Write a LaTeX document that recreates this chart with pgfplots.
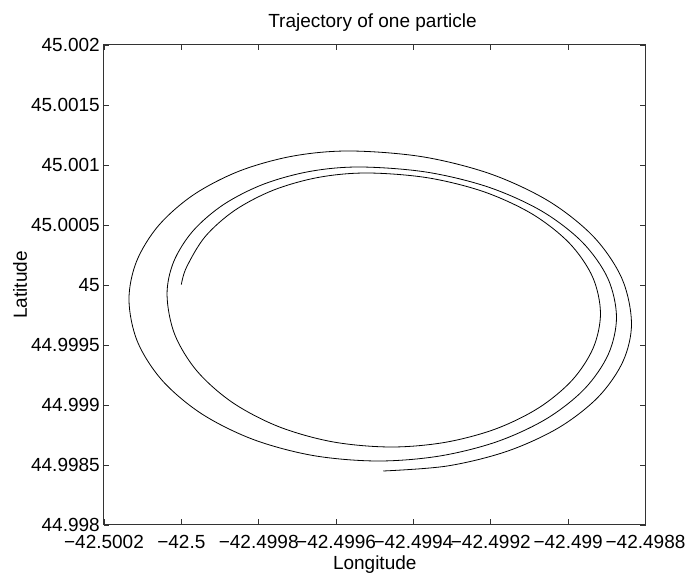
\documentclass[border=0pt]{standalone}
\usepackage{fontspec}
\setmainfont{Liberation Sans}
\usepackage{pgfplots}
\pgfplotsset{compat=1.18}
\begin{document}
% Coordinates are offsets in units of 1e-4 degrees:
% X = (Longitude + 42.5)*1e4, Y = (Latitude - 45)*1e4
\begin{tikzpicture}
\begin{axis}[
  scale only axis,
  width=541.5pt, height=480pt,
  xmin=-2, xmax=12, ymin=-20, ymax=20,
  xtick={-2,0,2,4,6,8,10,12},
  xticklabels={−42.5002,−42.5,−42.4998,−42.4996,−42.4994,−42.4992,−42.499,−42.4988},
  ytick={-20,-15,-10,-5,0,5,10,15,20},
  yticklabels={44.998,44.9985,44.999,44.9995,45,45.0005,45.001,45.0015,45.002},
  font=\fontsize{19}{22}\selectfont,
  tick label style={font=\fontsize{19}{22}\selectfont},
  xticklabel style={inner sep=0pt, anchor=north, yshift=-10pt},
  yticklabel style={inner sep=0pt, anchor=east, xshift=-4pt},
  major tick length=5.5pt,
  tick align=inside,
  tick style={black!80, line width=0.8pt},
  axis line style={black!80, line width=1pt},
  title={Trajectory of one particle},
  title style={at={(axis description cs:0.4958,1.0229)}, anchor=base, inner sep=0pt, font=\fontsize{19}{22}\selectfont},
  xlabel={Longitude},
  xlabel style={at={(axis description cs:0.5,-0.09375)}, anchor=base, inner sep=0pt, font=\fontsize{19}{22}\selectfont},
  ylabel={Latitude},
  ylabel style={at={(axis description cs:-0.1422,0.5)}, anchor=base, inner sep=0pt, rotate=0, font=\fontsize{19}{22}\selectfont},
  clip=false,
]
\addplot[black, line width=0.8pt, smooth, tension=0.55] coordinates {
(0.00,0.04) (0.135,1.489) (0.618,4.042) (1.386,6.233) (2.388,7.915) (3.554,8.972)
(4.806,9.333) (6.367,8.935) (7.821,7.770) (9.070,5.916) (10.028,3.500) (10.630,0.686)
(10.836,-2.333) (10.651,-5.223) (10.108,-7.917) (9.244,-10.229) (8.119,-12.004) (6.808,-13.119)
(5.401,-13.5) (3.907,-13.068) (2.515,-11.803) (1.320,-9.790) (0.403,-7.167) (-0.173,-4.111)
(-0.370,-0.833) (-0.200,1.927) (0.299,4.500) (1.093,6.709) (2.127,8.404) (3.332,9.470)
(4.625,9.833) (6.340,9.407) (7.938,8.158) (9.310,6.172) (10.362,3.583) (11.024,0.568)
(11.250,-2.667) (11.039,-5.773) (10.421,-8.667) (9.438,-11.152) (8.158,-13.059) (6.666,-14.258)
(5.065,-14.667) (3.404,-14.210) (1.855,-12.869) (0.526,-10.737) (-0.494,-7.959) (-1.135,-4.722)
(-1.354,-1.25) (-1.159,1.964) (-0.588,4.959) (0.321,7.530) (1.506,9.503) (2.886,10.744)
(4.366,11.167) (6.248,10.678) (8.002,9.246) (9.508,6.969) (10.664,4.000) (11.390,0.543)
(11.638,-3.167) (11.419,-6.359) (10.778,-9.334) (9.758,-11.888) (8.429,-13.848) (6.881,-15.080)
(5.220,-15.5)
};
\coordinate (SW) at (rel axis cs:0,0);
\end{axis}
\pgfresetboundingbox
\path ([shift={(-104pt,-50pt)}]SW) rectangle ([shift={(581pt,525pt)}]SW);
\end{tikzpicture}
\end{document}
